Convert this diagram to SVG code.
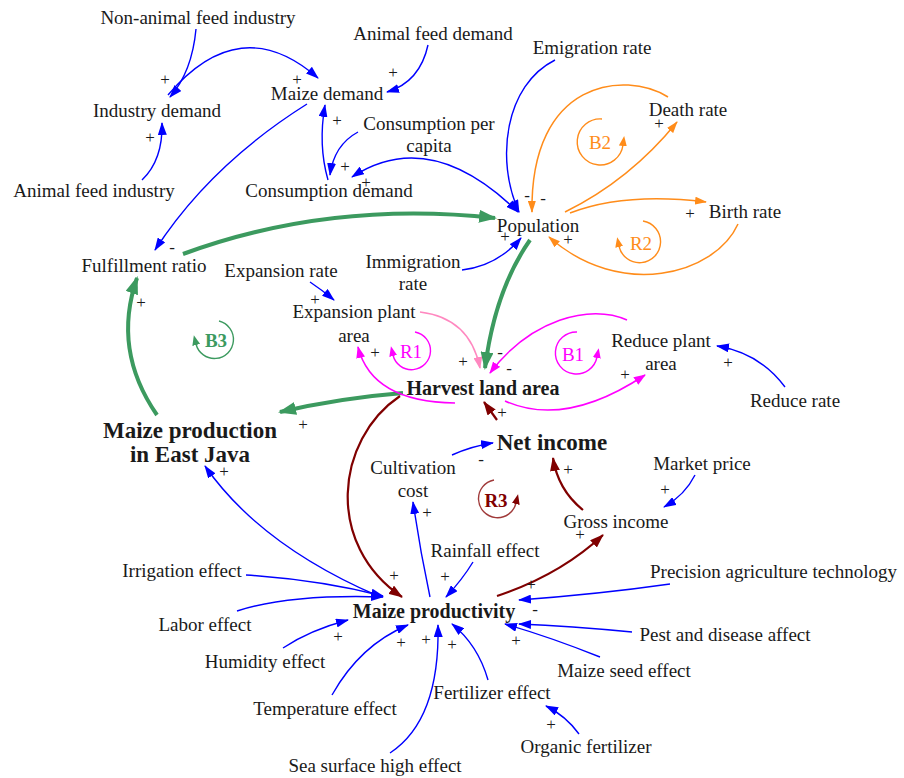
<svg xmlns="http://www.w3.org/2000/svg" width="904" height="778" viewBox="0 0 904 778">
  <style>
    text { font-family: "Liberation Serif", "Times New Roman", serif; fill: #1a1a1a; }
    .lbl { font-size: 19px; text-anchor: middle; }
    .lbl-l { font-size: 19px; text-anchor: start; }
    .bold { font-size: 20px; font-weight: bold; text-anchor: middle; }
    .big { font-size: 23px; font-weight: bold; text-anchor: middle; }
    .sign { font-size: 17px; text-anchor: middle; }
    #connectors path, path.loop { fill: none; }
    .b { stroke: #0000ff; stroke-width: 1.4; marker-end: url(#ah-b); }
    .o { stroke: #ff8c1a; stroke-width: 1.5; marker-end: url(#ah-o); }
    .g { stroke: #3c9a5f; stroke-width: 4; marker-end: url(#ah-g); }
    .m { stroke: #ff00ff; stroke-width: 1.5; marker-end: url(#ah-m); }
    .p { stroke: #ff88c0; stroke-width: 1.5; marker-end: url(#ah-p); }
    .r { stroke: #800000; stroke-width: 2.2; marker-end: url(#ah-r); }
    .loop { stroke-width: 1.4; }
    .loop-txt { font-size: 19px; text-anchor: middle; }
  </style>
  <defs>
    <marker id="ah-b" viewBox="0 0 13 9" refX="12" refY="4.5" markerWidth="13" markerHeight="9" markerUnits="userSpaceOnUse" orient="auto"><path d="M0,0 L13,4.5 L0,9 z" fill="#0000ff"/></marker>
    <marker id="ah-b2" viewBox="0 0 13 9" refX="12" refY="4.5" markerWidth="13" markerHeight="9" markerUnits="userSpaceOnUse" orient="auto-start-reverse"><path d="M0,0 L13,4.5 L0,9 z" fill="#0000ff"/></marker>
    <marker id="ah-o" viewBox="0 0 12 8" refX="11" refY="4" markerWidth="12" markerHeight="8" markerUnits="userSpaceOnUse" orient="auto"><path d="M0,0 L12,4 L0,8 z" fill="#ff8c1a"/></marker>
    <marker id="ah-g" viewBox="0 0 18 13" refX="16" refY="6.5" markerWidth="18" markerHeight="13" markerUnits="userSpaceOnUse" orient="auto"><path d="M0,0 L18,6.5 L0,13 z" fill="#3c9a5f"/></marker>
    <marker id="ah-m" viewBox="0 0 12 9" refX="11" refY="4.5" markerWidth="12" markerHeight="9" markerUnits="userSpaceOnUse" orient="auto"><path d="M0,0 L12,4.5 L0,9 z" fill="#ff00ff"/></marker>
    <marker id="ah-p" viewBox="0 0 12 9" refX="11" refY="4.5" markerWidth="12" markerHeight="9" markerUnits="userSpaceOnUse" orient="auto"><path d="M0,0 L12,4.5 L0,9 z" fill="#ff88c0"/></marker>
    <marker id="ah-r" viewBox="0 0 14 10" refX="13" refY="5" markerWidth="14" markerHeight="10" markerUnits="userSpaceOnUse" orient="auto"><path d="M0,0 L14,5 L0,10 z" fill="#800000"/></marker>
    <marker id="lh-o" viewBox="0 0 10 8" refX="1" refY="4" markerWidth="10" markerHeight="8" markerUnits="userSpaceOnUse" orient="auto"><path d="M0,0 L10,4 L0,8 z" fill="#ff8c1a"/></marker>
    <marker id="lh-g" viewBox="0 0 10 8" refX="1" refY="4" markerWidth="10" markerHeight="8" markerUnits="userSpaceOnUse" orient="auto"><path d="M0,0 L10,4 L0,8 z" fill="#3c9a5f"/></marker>
    <marker id="lh-m" viewBox="0 0 10 8" refX="1" refY="4" markerWidth="10" markerHeight="8" markerUnits="userSpaceOnUse" orient="auto"><path d="M0,0 L10,4 L0,8 z" fill="#ff00ff"/></marker>
    <marker id="lh-r" viewBox="0 0 10 8" refX="1" refY="4" markerWidth="10" markerHeight="8" markerUnits="userSpaceOnUse" orient="auto"><path d="M0,0 L10,4 L0,8 z" fill="#800000"/></marker>
  </defs>

  <rect width="904" height="778" fill="#ffffff"/>

  <!-- causal links -->
  <g id="connectors">
    <!-- demand side -->
    <path class="b" d="M196,29 Q192,72 170,97"/>
    <path class="b" d="M168,95 Q240,10 318,78"/>
    <path class="b" d="M428,45 Q420,82 387,92"/>
    <path class="b" d="M142,180 Q163,160 162,123"/>
    <path class="b" d="M328,180 Q318,145 325,105"/>
    <path class="b" d="M358,132 Q334,145 330,175"/>
    <path class="b" d="M352,177 Q430,126 518,212" style="marker-start:url(#ah-b2)"/>
    <path class="b" d="M555,60 C505,85 495,160 519,212"/>
    <path class="b" d="M307,104 Q210,165 155,250"/>
    <path class="b" d="M462,270 Q497,266 521,238"/>
    <path class="b" d="M310,282 Q322,290 334,300"/>
    <path class="b" d="M785,387 Q760,353 717,346"/>

    <!-- population loops -->
    <path class="o" d="M668,97 C625,70 530,80 532,212"/>
    <path class="o" d="M565,212 Q630,180 677,122"/>
    <path class="o" d="M570,213 Q625,192 706,202"/>
    <path class="o" d="M738,224 C715,275 620,300 549,237"/>

    <!-- main production loop -->
    <path class="g" d="M183,254 Q330,200 495,218"/>
    <path class="g" d="M530,240 Q495,290 485,368"/>
    <path class="g" d="M403,393 Q340,398 280,412"/>
    <path class="g" d="M157,415 Q112,350 137,278"/>

    <!-- land area loops -->
    <path class="p" d="M420,312 Q470,318 480,368"/>
    <path class="m" d="M455,403 Q372,402 358,347"/>
    <path class="m" d="M627,320 C590,303 530,320 490,373"/>
    <path class="m" d="M505,401 Q565,428 645,375"/>

    <!-- income loop -->
    <path class="r" d="M497,420 L484,402"/>
    <path class="r" d="M400,396 C335,440 325,545 402,597"/>
    <path class="r" d="M583,510 Q558,490 553,458"/>
    <path class="r" d="M497,596 Q560,575 603,535"/>
    <path class="b" d="M452,455 Q472,446 493,443"/>
    <path class="b" d="M695,475 Q685,495 664,507"/>
    <path class="b" d="M430,597 Q420,550 413,502"/>

    <!-- productivity drivers -->
    <path class="b" d="M473,562 Q462,580 446,597"/>
    <path class="b" d="M246,575 Q320,580 383,596"/>
    <path class="b" d="M378,596 Q260,545 205,466"/>
    <path class="b" d="M237,611 Q290,594 383,597"/>
    <path class="b" d="M283,648 Q310,630 348,620"/>
    <path class="b" d="M332,695 Q360,645 408,625"/>
    <path class="b" d="M390,753 Q440,720 438,625"/>
    <path class="b" d="M488,680 Q478,645 452,624"/>
    <path class="b" d="M670,584 Q600,594 519,600"/>
    <path class="b" d="M632,632 Q570,626 519,624"/>
    <path class="b" d="M600,657 Q550,637 505,624"/>
    <path class="b" d="M579,734 Q566,716 546,706"/>

    <!-- polarity -->
    <g id="polarity">
      <text class="sign" x="165" y="85">+</text>
      <text class="sign" x="297" y="85">+</text>
      <text class="sign" x="393" y="78">+</text>
      <text class="sign" x="150" y="143">+</text>
      <text class="sign" x="337" y="126">+</text>
      <text class="sign" x="345" y="172">+</text>
      <text class="sign" x="366" y="188">+</text>
      <text class="sign" x="505" y="242">+</text>
      <text class="sign" x="659" y="129">+</text>
      <text class="sign" x="690" y="219">+</text>
      <text class="sign" x="568" y="245">+</text>
      <text class="sign" x="141" y="308">+</text>
      <text class="sign" x="315" y="305">+</text>
      <text class="sign" x="463" y="367">+</text>
      <text class="sign" x="375" y="358">+</text>
      <text class="sign" x="625" y="380">+</text>
      <text class="sign" x="728" y="368">+</text>
      <text class="sign" x="303" y="430">+</text>
      <text class="sign" x="502" y="418">+</text>
      <text class="sign" x="224" y="477">+</text>
      <text class="sign" x="394" y="581">+</text>
      <text class="sign" x="427" y="518">+</text>
      <text class="sign" x="445" y="582">+</text>
      <text class="sign" x="568" y="475">+</text>
      <text class="sign" x="665" y="495">+</text>
      <text class="sign" x="580" y="540">+</text>
      <text class="sign" x="531" y="590">+</text>
      <text class="sign" x="338" y="642">+</text>
      <text class="sign" x="401" y="648">+</text>
      <text class="sign" x="426" y="645">+</text>
      <text class="sign" x="452" y="650">+</text>
      <text class="sign" x="516" y="646">+</text>
      <text class="sign" x="551" y="730">+</text>
      <text class="sign" x="527" y="201">-</text>
      <text class="sign" x="543" y="204">-</text>
      <text class="sign" x="172" y="253">-</text>
      <text class="sign" x="500" y="358">-</text>
      <text class="sign" x="509" y="374">-</text>
      <text class="sign" x="481" y="465">-</text>
      <text class="sign" x="535" y="615">-</text>
    </g>
  </g>

  <!-- loop markers -->
  <g id="loop-B2">
    <path class="loop" d="M602,119 A23,23 0 1 0 623,145" stroke="#ff8c1a" marker-end="url(#lh-o)"/>
    <text class="loop-txt" x="600" y="149" style="fill:#ff8c1a">B2</text>
  </g>
  <g id="loop-R2">
    <path class="loop" d="M643,221 A21,21 0 1 1 619,246" stroke="#ff8c1a" marker-end="url(#lh-o)"/>
    <text class="loop-txt" x="641" y="250" style="fill:#ff8c1a">R2</text>
  </g>
  <g id="loop-B3">
    <path class="loop" d="M219,321 A19,19 0 1 1 196,344" stroke="#3c9a5f" marker-end="url(#lh-g)"/>
    <text class="loop-txt" x="216" y="347" style="fill:#3c9a5f;font-weight:bold">B3</text>
  </g>
  <g id="loop-R1">
    <path class="loop" d="M415,332 A19,19 0 1 1 393,355" stroke="#ff00ff" marker-end="url(#lh-m)"/>
    <text class="loop-txt" x="411" y="358" style="fill:#ff00ff">R1</text>
  </g>
  <g id="loop-B1">
    <path class="loop" d="M577,332 A21,21 0 1 0 597,357" stroke="#ff00ff" marker-end="url(#lh-m)"/>
    <text class="loop-txt" x="573" y="361" style="fill:#ff00ff">B1</text>
  </g>
  <g id="loop-R3">
    <path class="loop" d="M494,480 A19,19 0 1 0 516,503" stroke="#a03a3a" marker-end="url(#lh-r)"/>
    <text class="loop-txt" x="496" y="507" style="fill:#800000;font-weight:bold">R3</text>
  </g>

  <!-- variables -->
  <g id="non-animal-feed-industry"><text class="lbl" x="198" y="24">Non-animal feed industry</text></g>
  <g id="animal-feed-demand"><text class="lbl" x="433" y="40">Animal feed demand</text></g>
  <g id="emigration-rate"><text class="lbl" x="592" y="54">Emigration rate</text></g>
  <g id="maize-demand"><text class="lbl" x="327" y="100">Maize demand</text></g>
  <g id="industry-demand"><text class="lbl" x="157" y="117">Industry demand</text></g>
  <g id="death-rate"><text class="lbl" x="688" y="116">Death rate</text></g>
  <g id="consumption-per-capita"><text class="lbl" x="429" y="130">Consumption per</text><text class="lbl" x="429" y="152">capita</text></g>
  <g id="animal-feed-industry"><text class="lbl" x="94" y="197">Animal feed industry</text></g>
  <g id="consumption-demand"><text class="lbl" x="329" y="197">Consumption demand</text></g>
  <g id="birth-rate"><text class="lbl" x="745" y="218">Birth rate</text></g>
  <g id="population"><text class="lbl" x="538" y="232">Population</text></g>
  <g id="fulfillment-ratio"><text class="lbl" x="144" y="272">Fulfillment ratio</text></g>
  <g id="expansion-rate"><text class="lbl" x="281" y="277">Expansion rate</text></g>
  <g id="immigration-rate"><text class="lbl" x="413" y="268">Immigration</text><text class="lbl" x="413" y="290">rate</text></g>
  <g id="expansion-plant-area"><text class="lbl" x="354" y="318">Expansion plant</text><text class="lbl" x="354" y="342">area</text></g>
  <g id="reduce-plant-area"><text class="lbl" x="661" y="347">Reduce plant</text><text class="lbl" x="661" y="370">area</text></g>
  <g id="harvest-land-area"><text class="bold" x="483" y="395">Harvest land area</text></g>
  <g id="reduce-rate"><text class="lbl" x="795" y="407">Reduce rate</text></g>
  <g id="maize-production"><text class="big" x="190" y="438">Maize production</text><text class="big" x="190" y="462">in East Java</text></g>
  <g id="net-income"><text class="big" x="552" y="450">Net income</text></g>
  <g id="cultivation-cost"><text class="lbl" x="413" y="474">Cultivation</text><text class="lbl" x="413" y="497">cost</text></g>
  <g id="market-price"><text class="lbl" x="702" y="470">Market price</text></g>
  <g id="gross-income"><text class="lbl" x="616" y="528">Gross income</text></g>
  <g id="rainfall-effect"><text class="lbl" x="485" y="557">Rainfall effect</text></g>
  <g id="irrigation-effect"><text class="lbl" x="182" y="577">Irrigation effect</text></g>
  <g id="precision-agriculture"><text class="lbl-l" x="650" y="578">Precision agriculture technology</text></g>
  <g id="maize-productivity"><text class="bold" x="434" y="618">Maize productivity</text></g>
  <g id="labor-effect"><text class="lbl" x="205" y="631">Labor effect</text></g>
  <g id="pest-disease"><text class="lbl" x="725" y="641">Pest and disease affect</text></g>
  <g id="humidity-effect"><text class="lbl" x="265" y="668">Humidity effect</text></g>
  <g id="maize-seed-effect"><text class="lbl" x="624" y="677">Maize seed effect</text></g>
  <g id="fertilizer-effect"><text class="lbl" x="492" y="699">Fertilizer effect</text></g>
  <g id="temperature-effect"><text class="lbl" x="325" y="715">Temperature effect</text></g>
  <g id="organic-fertilizer"><text class="lbl" x="586" y="753">Organic fertilizer</text></g>
  <g id="sea-surface-effect"><text class="lbl" x="375" y="772">Sea surface high effect</text></g>
</svg>
